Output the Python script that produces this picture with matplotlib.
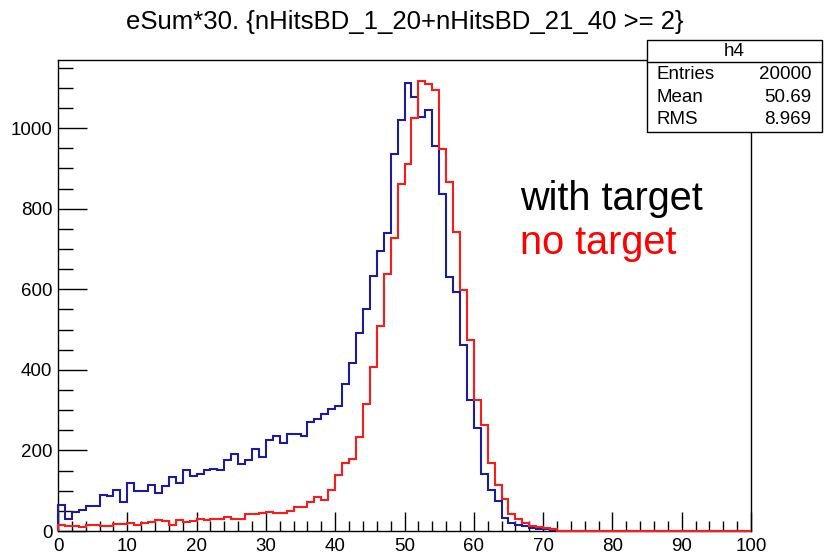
import numpy as np
import matplotlib
matplotlib.use('Agg')
import matplotlib.pyplot as plt
from matplotlib.patches import Rectangle
from matplotlib.lines import Line2D
from matplotlib.ticker import MultipleLocator

plt.rcParams['font.family'] = ['Liberation Sans', 'DejaVu Sans']

# bin edges 0..100, width 1
edges = np.arange(0, 101, 1)

# with target (blue), counts per bin
with_target = [64, 29, 46, 52, 61, 61, 89, 88, 103, 71,
               118, 99, 99, 114, 95, 112, 133, 120, 151, 136,
               141, 151, 155, 151, 176, 190, 166, 176, 203, 184,
               227, 236, 219, 241, 241, 237, 270, 277, 290, 302,
               311, 366, 416, 492, 551, 634, 696, 739, 935, 1020,
               1112, 1076, 1027, 1045, 955, 836, 631, 593, 462, 325,
               255, 142, 103, 74, 33, 19, 15, 12, 7, 6,
               4, 2] + [0] * 28

# no target (red)
no_target = [16, 12, 12, 9, 15, 15, 12, 12, 18, 18,
             21, 16, 19, 23, 28, 26, 15, 28, 23, 24,
             31, 27, 29, 29, 35, 31, 31, 41, 42, 44,
             46, 44, 44, 50, 60, 60, 71, 84, 77, 102,
             139, 170, 178, 234, 314, 406, 510, 638, 728, 860,
             912, 1024, 1116, 1109, 1095, 947, 867, 743, 597, 474,
             325, 263, 170, 113, 79, 42, 29, 19, 12, 9,
             7, 4, 1] + [0] * 27

stats_labels = ['Entries', 'Mean', 'RMS']
stats_values = ['20000', '50.69', '8.969']

fig = plt.figure(figsize=(8.26, 5.57), dpi=100)
ax = fig.add_axes([58/826, 1-531/557, (751-58)/826, (531-60)/557])

ax.stairs(with_target, edges, color='#1c1ca0', linewidth=1.5, baseline=0, clip_on=False, zorder=3)
ax.stairs(no_target, edges, color='#ff1a1a', linewidth=1.5, baseline=0, clip_on=False, zorder=4)

ax.set_xlim(0, 100)
ax.set_ylim(0, 1169)
ax.xaxis.set_major_locator(MultipleLocator(10))
ax.xaxis.set_minor_locator(MultipleLocator(2))
ax.yaxis.set_major_locator(MultipleLocator(200))
ax.yaxis.set_minor_locator(MultipleLocator(50))
ax.tick_params(axis='x', which='major', direction='in', length=14, width=1, labelsize=13.5, pad=5)
ax.tick_params(axis='x', which='minor', direction='in', length=7, width=1)
ax.tick_params(axis='y', which='major', direction='in', length=21, width=1, labelsize=13.5, pad=4)
ax.tick_params(axis='y', which='minor', direction='in', length=11, width=1)
for s in ax.spines.values():
    s.set_linewidth(1)

fig.text(405/826, 1-22/557, 'eSum*30. {nHitsBD_1_20+nHitsBD_21_40 >= 2}',
         ha='center', va='center', fontsize=18.5)

fig.text(520/826, 1-199/557, 'with target', color='black', fontsize=28.5, ha='left', va='center')
fig.text(520/826, 1-243/557, 'no target', color='red', fontsize=28.5, ha='left', va='center')

# stats box
bx0, bx1, by0, by1 = 647/826, 822/826, 1-132/557, 1-40/557
fig.add_artist(Rectangle((bx0, by0), bx1-bx0, by1-by0, transform=fig.transFigure,
                         facecolor='white', edgecolor='black', linewidth=1, zorder=5))
fig.add_artist(Line2D([bx0, bx1], [1-62/557, 1-62/557], transform=fig.transFigure,
                      color='black', linewidth=1, zorder=6))
fig.text((bx0+bx1)/2, 1-52/557, 'h4', ha='center', va='center', fontsize=13.5, zorder=7)
for i, (lab, val) in enumerate(zip(stats_labels, stats_values)):
    yy = 1-(75+22.5*i)/557
    fig.text(656/826, yy, lab, ha='left', va='center', fontsize=13.5, zorder=7)
    fig.text(811/826, yy, val, ha='right', va='center', fontsize=13.5, zorder=7)

fig.savefig('out.png', dpi=100)
